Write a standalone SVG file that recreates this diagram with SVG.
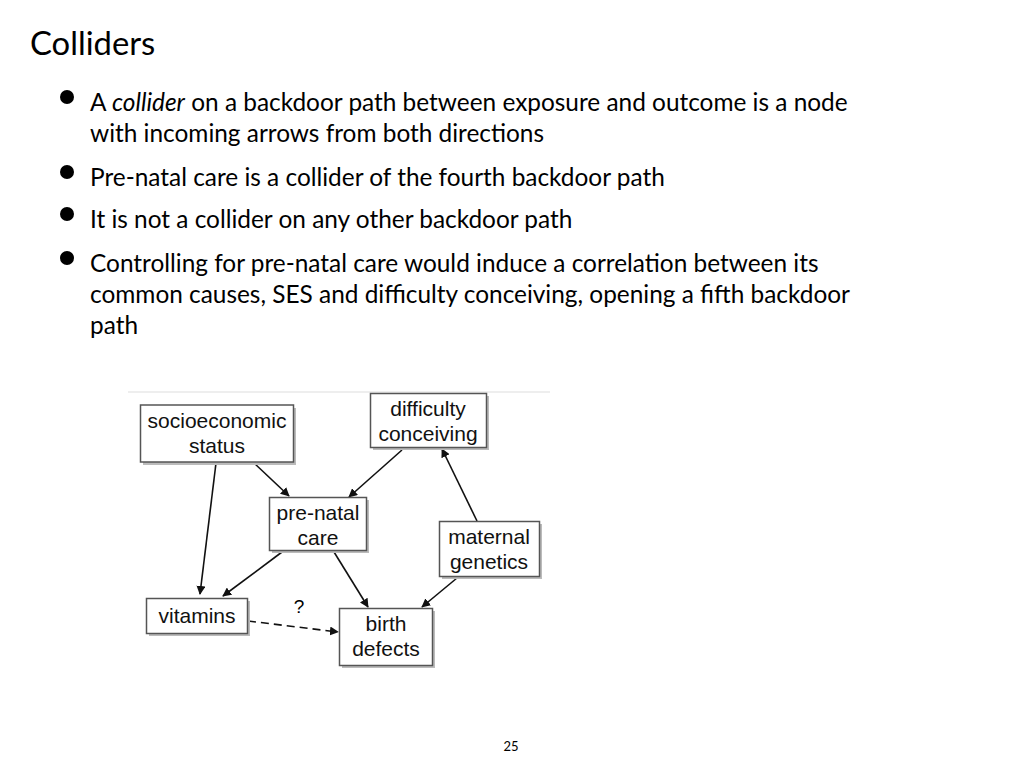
<svg xmlns="http://www.w3.org/2000/svg" width="1024" height="768" viewBox="0 0 1024 768">
<style>
.body{font-family:Lato,"Open Sans",sans-serif;font-size:24.4px;fill:#000}
.node rect.b{fill:#fff;stroke:#555;stroke-width:1.5}
.node rect.s{fill:#bbb}
.node text{font-family:"Liberation Sans",Arial,sans-serif;font-size:21px;fill:#111;text-anchor:middle}
.edge{stroke:#111;stroke-width:1.6;fill:none;marker-end:url(#ah)}
</style>
<defs>
<marker id="ah" viewBox="0 0 10 10" refX="9" refY="5" markerWidth="9" markerHeight="9" markerUnits="userSpaceOnUse" orient="auto">
<path d="M0,0 L10,5 L0,10 z" fill="#111"/>
</marker>
</defs>
<rect width="1024" height="768" fill="#fff"/>
<text x="30" y="55" style="font-family:Lato,'Open Sans',sans-serif;font-size:32.8px">Colliders</text>
<g id="bullets" fill="#000">
<circle cx="67" cy="97" r="7"/>
<circle cx="67" cy="172" r="7"/>
<circle cx="67" cy="214" r="7"/>
<circle cx="67" cy="258" r="7"/>
</g>
<text class="body" x="90" y="111">A <tspan font-style="italic">collider</tspan> on a backdoor path between exposure and outcome is a node</text>
<text class="body" x="90" y="142">with incoming arrows from both directions</text>
<text class="body" x="90" y="186">Pre-natal care is a collider of the fourth backdoor path</text>
<text class="body" x="90" y="228">It is not a collider on any other backdoor path</text>
<text class="body" x="90" y="272">Controlling for pre-natal care would induce a correlation between its</text>
<text class="body" x="90" y="303">common causes, SES and difficulty conceiving, opening a fifth backdoor</text>
<text class="body" x="90" y="334">path</text>
<line x1="128" y1="392" x2="550" y2="392" stroke="#ddd" stroke-width="1"/>
<g id="connectors">
<line class="edge" x1="216" y1="463" x2="200" y2="594"/>
<line class="edge" x1="254" y1="463" x2="289" y2="496"/>
<line class="edge" x1="402" y1="450" x2="349" y2="497"/>
<line class="edge" x1="477" y1="521" x2="442" y2="449"/>
<line class="edge" x1="282" y1="552" x2="223" y2="596"/>
<line class="edge" x1="334" y1="552" x2="368" y2="607"/>
<line class="edge" x1="457" y1="578" x2="422" y2="607"/>
<line class="edge" x1="248" y1="621" x2="338" y2="632" stroke-dasharray="8,5"/>
</g>
<g id="ses" class="node">
<rect class="s" x="143" y="408" width="153" height="57"/>
<rect class="b" x="140.5" y="405" width="153" height="57"/>
<text x="217" y="428">socioeconomic</text>
<text x="217" y="453">status</text>
</g>
<g id="difficulty" class="node">
<rect class="s" x="373" y="396" width="116" height="54"/>
<rect class="b" x="370.5" y="393.5" width="116" height="54"/>
<text x="428" y="416">difficulty</text>
<text x="428" y="441">conceiving</text>
</g>
<g id="prenatal" class="node">
<rect class="s" x="272" y="500" width="97" height="53"/>
<rect class="b" x="269.5" y="497.5" width="97" height="53"/>
<text x="318" y="520">pre-natal</text>
<text x="318" y="545">care</text>
</g>
<g id="maternal" class="node">
<rect class="s" x="442" y="524" width="100" height="55"/>
<rect class="b" x="439.5" y="521.5" width="100" height="55"/>
<text x="489" y="544">maternal</text>
<text x="489" y="569">genetics</text>
</g>
<g id="vitamins" class="node">
<rect class="s" x="149" y="601" width="101" height="35"/>
<rect class="b" x="146.5" y="598.5" width="101" height="35"/>
<text x="197" y="623">vitamins</text>
</g>
<g id="birth" class="node">
<rect class="s" x="342" y="611" width="93" height="57"/>
<rect class="b" x="339.5" y="608.5" width="93" height="57"/>
<text x="386" y="631">birth</text>
<text x="386" y="656">defects</text>
</g>
<text x="299" y="613" style="font-family:'Liberation Sans',Arial,sans-serif;font-size:19px;text-anchor:middle">?</text>
<text x="511" y="751" style="font-family:Lato,'Open Sans',sans-serif;font-size:13px;text-anchor:middle">25</text>
</svg>
